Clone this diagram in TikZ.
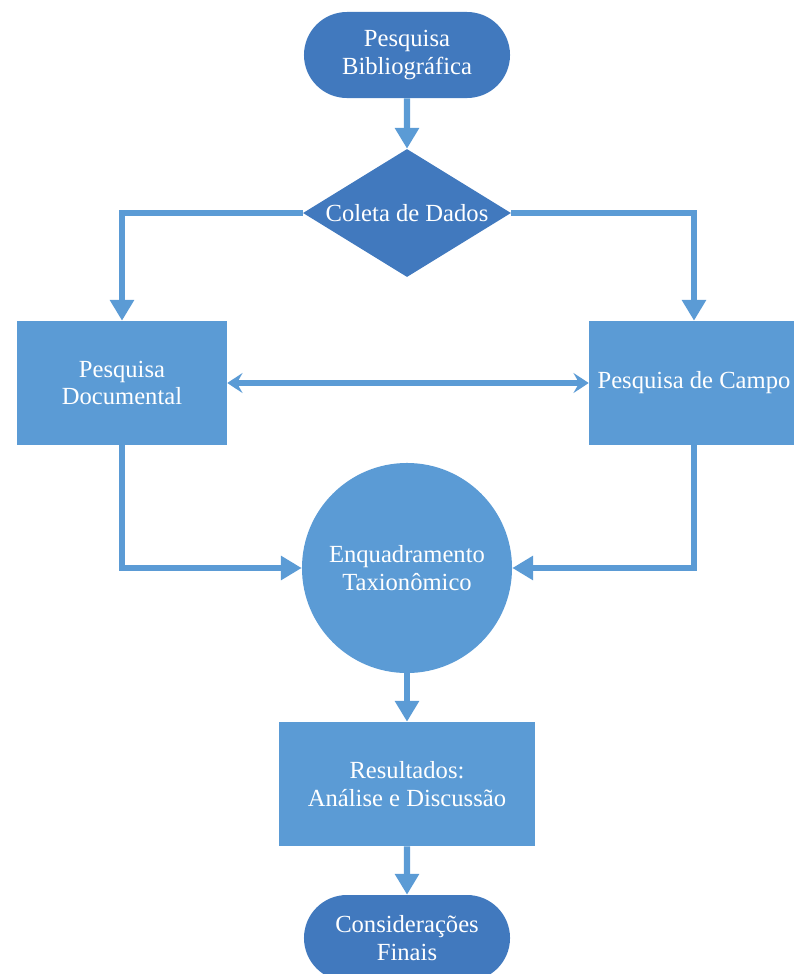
\documentclass[tikz,border=0pt]{standalone}
\usepackage{fontspec}
\setmainfont{Liberation Serif}
\usepackage{xcolor}
\usepackage{tikz}
\usetikzlibrary{arrows.meta}
\usetikzlibrary{shapes.geometric,shapes.misc}
\definecolor{darkblue}{RGB}{65,121,190}
\definecolor{lightblue}{RGB}{91,155,213}

\begin{document}
\begin{tikzpicture}[x=0.025cm,y=-0.025cm,
		font=\fontsize{17.5}{19.5}\selectfont,text=white,
		terminal/.style={rounded rectangle,fill=darkblue,minimum width=5.15cm,minimum height=2.15cm,inner sep=0pt,align=center},
		decision/.style={diamond,fill=darkblue,minimum width=5.2cm,minimum height=3.2cm,inner sep=0pt},
		process/.style={rectangle,fill=lightblue,minimum height=3.1cm,inner sep=0pt,align=center},
		taxon/.style={circle,fill=lightblue,minimum size=5.25cm,inner sep=0pt,align=center},
		flow/.style={draw=lightblue,line width=4.3pt,-{Triangle[width=0.58cm,length=0.52cm]}},
		twoway/.style={draw=lightblue,line width=4.3pt,{Stealth[width=0.5cm,length=0.38cm,inset=0.14cm]}-{Stealth[width=0.5cm,length=0.38cm,inset=0.14cm]}}]
		\useasboundingbox (0,0) rectangle (794,974);
		\node[terminal] (biblio) at (407,55) {Pesquisa\\Bibliográfica};
		\node[decision,label=center:{Coleta de Dados}] (coleta) at (407,213) {};
		\node[process,minimum width=5.25cm] (docum) at (122,383) {Pesquisa\\Documental};
		\node[process,minimum width=5.25cm] (campo) at (694,383) {Pesquisa de Campo};
		\node[taxon] (enquad) at (407,568) {Enquadramento\\Taxionômico};
		\node[process,minimum width=6.4cm] (result) at (407,784) {Resultados:\\Análise e Discussão};
		\node[terminal] (consid) at (407,938) {Considerações\\Finais};
		\draw[flow] (biblio) -- (coleta);
		\draw[flow] (coleta.west) -| (docum.north);
		\draw[flow] (coleta.east) -| (campo.north);
		\draw[twoway] (docum) -- (campo);
		\draw[flow] (docum.south) |- (enquad.west);
		\draw[flow] (campo.south) |- (enquad.east);
		\draw[flow] (enquad) -- (result);
		\draw[flow] (result) -- (consid);
	\end{tikzpicture}
\end{document}
